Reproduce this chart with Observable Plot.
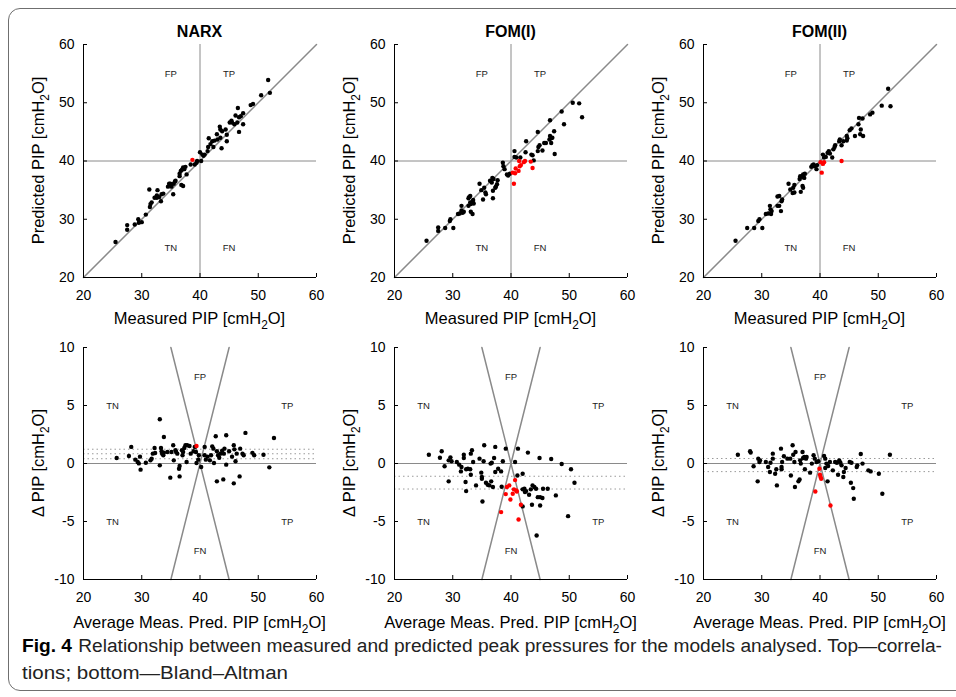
<!DOCTYPE html>
<html>
<head>
<meta charset="utf-8">
<script src="https://cdn.jsdelivr.net/npm/d3@7"></script>
<script src="https://cdn.jsdelivr.net/npm/@observablehq/plot@0.6"></script>
<style>
  html, body { margin: 0; padding: 0; background: #fff; }
  body { width: 956px; height: 697px; overflow: hidden; position: relative; font-family: "Liberation Sans", Arial, sans-serif; }
  #frame { position: absolute; left: 8px; top: 8px; width: 980px; height: 683px; border: 1px solid #6f6f6f; border-radius: 12px; box-sizing: border-box; }
</style>
</head>
<body>
<div id="frame"></div>
<script>
// ---------- data ----------
const models = ["NARX", "FOM(I)", "FOM(II)"];
const xTicks = [20, 30, 40, 50, 60];
const corrYTicks = [20, 30, 40, 50, 60];
const baYTicks = [-10, -5, 0, 5, 10];
const threshold = 40;

// correlation panels: [measured, predicted]
const narxCorr = [[25.5,26.1],[27.5,29.0],[27.5,28.2],[28.8,29.1],[29.4,30.0],[29.5,29.4],[30.0,29.5],[30.7,30.8],[31.3,35.1],[31.4,32.1],[31.5,32.6],[31.7,32.9],[32.2,33.7],[32.7,35.0],[32.6,34.1],[32.6,33.7],[33.0,33.8],[33.3,33.1],[33.4,34.3],[33.7,34.4],[34.5,35.6],[34.7,36.1],[34.9,36.1],[35.1,35.6],[35.5,36.1],[35.4,34.3],[35.7,36.5],[35.8,36.6],[36.5,37.4],[36.5,37.8],[36.7,38.3],[36.9,38.5],[37.1,38.9],[37.3,38.6],[37.5,39.0],[37.7,37.7],[36.8,35.9],[37.1,35.7],[38.4,39.4],[39.1,39.4],[39.4,39.7],[39.5,40.0],[40.2,40.0],[40.0,41.5],[40.4,41.1],[40.6,40.9],[40.8,41.1],[41.3,41.7],[41.4,42.4],[41.5,43.9],[41.8,42.9],[42.1,43.4],[42.3,42.4],[42.5,43.5],[42.9,44.6],[43.0,43.7],[43.5,44.0],[43.7,42.2],[43.4,45.9],[43.5,45.4],[43.8,45.1],[44.4,45.4],[44.6,43.4],[44.6,44.5],[45.1,46.6],[45.4,46.9],[45.5,46.6],[45.9,46.3],[46.4,46.6],[46.1,47.8],[46.5,49.1],[46.7,47.5],[46.7,45.0],[47.0,47.7],[47.4,48.2],[47.4,46.3],[48.7,49.6],[49.1,49.8],[50.5,51.3],[51.7,53.9],[52.0,51.7]];
const narxCorrRed = [[38.7,40.2]];

const fom1Corr = [[25.5,26.3],[27.5,28.6],[27.5,28.0],[28.7,28.5],[29.5,29.7],[29.6,30.0],[30.1,28.5],[30.9,30.9],[31.2,31.0],[31.5,32.3],[31.5,31.5],[31.7,31.1],[31.9,31.3],[32.7,32.3],[32.8,33.8],[33.0,34.0],[32.7,33.6],[33.0,32.9],[33.1,32.6],[33.4,33.0],[33.5,33.3],[33.6,32.7],[33.1,31.3],[33.4,30.9],[34.6,36.1],[34.9,35.0],[35.2,33.4],[35.4,35.4],[35.6,34.6],[35.7,34.3],[36.4,36.6],[36.7,36.3],[36.8,37.1],[37.0,36.9],[36.9,34.9],[36.9,33.6],[37.3,35.4],[37.4,35.6],[37.6,36.0],[37.7,36.7],[38.6,39.7],[38.7,39.1],[38.9,38.6],[39.3,37.7],[39.5,37.5],[39.8,37.8],[40.6,41.7],[40.6,40.7],[40.9,40.6],[41.6,40.6],[42.5,41.5],[42.6,43.4],[43.5,41.1],[43.7,41.0],[43.9,40.1],[44.6,45.0],[44.6,41.7],[44.7,42.4],[44.9,42.7],[45.4,41.8],[45.7,43.1],[46.0,43.1],[46.6,43.7],[46.7,47.0],[46.7,44.3],[46.9,43.9],[47.1,44.0],[46.9,43.1],[47.4,45.1],[47.5,41.2],[48.7,48.5],[49.1,46.3],[50.6,50.0],[51.7,49.9],[52.2,47.5]];
const fom1CorrRed = [[40.3,38.0],[40.7,37.9],[40.5,36.1],[40.8,38.7],[41.4,40.0],[41.5,39.1],[41.3,38.3],[41.7,39.3],[42.2,39.8],[42.4,40.0],[43.4,39.9],[43.7,38.8]];

const fom2Corr = [[25.5,26.3],[27.5,28.5],[28.7,28.5],[30.1,28.5],[29.4,29.7],[29.6,30.0],[30.7,30.9],[31.1,31.0],[31.4,32.3],[31.5,31.7],[31.7,31.4],[31.6,30.9],[32.7,33.9],[33.0,34.0],[33.4,33.1],[33.5,33.4],[32.7,32.3],[33.0,32.3],[33.3,31.4],[34.6,36.1],[34.9,35.1],[35.4,35.4],[35.6,35.9],[35.3,34.5],[35.6,34.6],[36.7,34.7],[36.5,36.9],[36.6,37.4],[36.9,37.3],[37.1,37.7],[37.3,37.1],[37.4,37.8],[37.0,35.7],[37.1,35.4],[38.5,39.0],[38.7,39.3],[38.9,39.4],[39.1,39.1],[39.4,38.6],[39.5,39.3],[40.5,41.1],[40.7,40.6],[41.0,40.7],[41.3,41.4],[41.5,41.7],[41.7,41.3],[42.1,40.6],[42.5,42.4],[42.3,42.0],[42.6,42.7],[43.3,43.4],[43.4,43.7],[43.7,42.7],[44.0,43.4],[44.6,44.3],[44.6,43.5],[44.7,43.9],[45.1,45.3],[45.4,45.6],[46.0,44.3],[46.6,46.3],[46.7,47.4],[46.9,44.6],[47.0,45.4],[47.3,47.3],[47.4,44.3],[48.6,48.0],[49.0,48.3],[50.6,49.5],[51.7,52.4],[52.1,49.4]];
const fom2CorrRed = [[40.1,39.8],[40.5,39.5],[40.7,39.8],[40.3,38.0],[43.7,40.0]];

// Bland-Altman panels: [average, difference]
const narxBA = [[25.7,0.48],[27.8,0.65],[28.2,1.43],[28.9,0.33],[29.3,0.13],[29.5,0.01],[29.7,0.59],[29.8,-0.53],[30.7,0.07],[31.5,0.27],[31.7,0.42],[31.9,0.85],[32.2,1.34],[32.3,0.91],[33.1,3.82],[33.1,-0.16],[33.3,1.34],[33.4,1.05],[33.5,0.85],[33.7,0.71],[33.8,2.29],[33.8,0.94],[34.4,0.99],[34.9,-1.22],[35.1,0.99],[35.4,1.57],[35.5,0.27],[35.8,1.14],[35.9,0.99],[36.1,0.85],[36.4,-0.45],[36.5,-1.11],[36.5,-0.22],[36.9,1.14],[37.0,0.71],[37.1,0.99],[37.3,1.34],[37.5,1.57],[37.7,0.13],[37.8,1.57],[38.2,1.51],[38.4,0.85],[38.9,1.05],[39.1,1.43],[39.3,0.99],[39.4,0.04],[39.7,0.33],[39.8,0.71],[40.2,-0.30],[40.8,1.43],[40.8,0.71],[41.0,0.33],[41.3,0.59],[41.7,0.27],[41.9,0.71],[42.1,1.48],[42.3,1.28],[42.4,0.04],[42.7,2.35],[42.9,1.05],[42.9,-1.54],[43.1,0.71],[43.3,0.50],[43.5,0.85],[43.8,1.11],[44.0,-1.37],[44.1,0.85],[44.2,1.28],[44.5,2.44],[44.5,-0.10],[45.0,1.05],[45.5,0.59],[45.8,1.57],[45.9,1.22],[46.1,0.19],[46.3,0.85],[46.8,-1.11],[46.9,1.28],[47.3,0.85],[47.5,0.71],[47.8,2.64],[49.0,0.92],[49.3,0.71],[50.9,0.76],[51.9,-0.33],[52.7,2.20],[45.8,-1.71]];
const narxBARed = [[39.4,1.51]];
const narxLimits = [0.41, 0.84, 1.23];

const fom1BA = [[25.9,0.76],[27.8,0.50],[28.1,1.05],[28.6,-0.24],[29.3,0.27],[29.6,0.53],[29.8,0.19],[29.3,-1.54],[30.7,0.13],[31.1,-0.10],[31.4,-0.68],[31.5,-0.30],[31.9,0.48],[31.9,0.76],[32.2,-1.60],[32.3,-2.38],[32.3,-0.50],[32.6,-0.45],[33.0,-0.50],[33.1,0.85],[33.1,-0.97],[33.3,1.14],[33.5,0.13],[34.0,-1.89],[34.6,0.42],[34.9,-0.79],[35.0,-1.17],[35.0,-1.31],[35.1,-3.27],[35.3,0.19],[35.4,1.57],[35.7,-1.66],[36.0,-1.83],[36.3,-1.89],[36.5,-0.01],[36.6,-1.54],[36.7,0.07],[36.9,-2.03],[37.1,0.48],[37.3,1.43],[37.3,-0.73],[37.8,-0.45],[38.3,-0.68],[38.4,-2.00],[38.6,0.19],[39.1,1.28],[40.7,0.13],[41.2,1.28],[41.1,-1.03],[42.0,-0.88],[42.9,0.94],[44.9,0.48],[46.9,0.39],[48.7,-0.04],[50.3,-0.50],[50.9,-1.66],[49.8,-4.54],[44.4,-6.21],[42.0,-2.23],[42.3,-2.18],[42.4,-2.46],[42.6,-2.38],[43.1,-2.69],[43.4,-2.23],[43.7,-1.89],[44.0,-2.03],[44.3,-2.18],[44.6,-2.90],[45.0,-2.90],[45.4,-2.98],[45.5,-2.18],[46.3,-2.18],[43.6,-3.56],[45.0,-3.62],[42.0,-3.70],[47.7,-2.75]];
const fom1BARed = [[39.1,-2.64],[39.3,-2.03],[39.7,-1.89],[39.9,-3.10],[40.3,-2.61],[40.5,-2.23],[40.7,-1.43],[40.9,-2.32],[41.0,-2.41],[41.7,-3.56],[38.3,-4.19],[41.3,-4.83]];
const fom1Limits = [-1.1, -2.2];

const fom2BA = [[25.9,0.76],[28.0,1.05],[28.1,0.94],[28.6,-0.24],[29.4,0.42],[29.6,0.13],[29.7,0.27],[29.3,-1.54],[30.7,0.13],[31.1,-0.30],[31.4,-0.73],[31.5,0.07],[31.9,0.85],[31.9,0.42],[32.3,-0.88],[32.5,-0.50],[32.6,-1.89],[33.3,1.28],[33.4,-0.30],[33.4,-0.50],[33.5,0.13],[33.8,0.62],[34.4,0.42],[34.9,0.42],[35.0,-1.03],[35.3,1.57],[35.4,0.76],[35.6,0.13],[35.7,-2.03],[35.8,0.99],[36.3,-1.54],[36.5,-1.37],[36.6,0.27],[36.7,-0.01],[37.0,0.99],[37.1,0.48],[37.3,0.56],[37.4,-0.50],[37.6,0.42],[37.7,0.56],[38.3,-0.79],[38.6,-0.01],[38.9,0.71],[39.1,0.42],[39.4,0.13],[39.7,0.19],[40.7,0.65],[40.9,0.42],[40.9,-0.39],[41.1,-0.01],[41.3,-1.54],[41.4,-0.22],[41.7,0.13],[42.2,-0.59],[42.6,0.13],[42.9,0.07],[43.1,-0.97],[43.3,0.27],[43.5,0.07],[43.7,-0.16],[44.0,-1.17],[44.1,-0.73],[44.4,-0.39],[45.1,0.13],[45.3,-1.66],[45.4,0.07],[45.7,-2.12],[45.8,-3.04],[46.3,-0.30],[46.4,-0.16],[47.0,0.82],[47.3,-0.01],[48.3,-0.59],[48.7,-0.68],[50.1,-0.88],[50.7,-2.61],[52.0,0.76]];
const fom2BARed = [[39.9,-0.45],[40.0,-0.97],[40.1,-1.17],[40.2,-1.31],[39.2,-2.41],[41.8,-3.62]];
const fom2Limits = [0.43, -0.7];

// quadrant annotations
const corrNotes = [["FP",35,55],["TP",45,55],["TN",35,25],["FN",45,25]];
const baNotes = [["TN",25,5],["TP",55,5],["TN",25,-5],["TP",55,-5],["FP",40,7.5],["FN",40,-7.5]];

// ---------- layout ----------
const colLeft = [83, 394, 703];
const plotW = 233;
const rowTop = [44, 347];
const plotH = [233, 232];
const FONT = '"Liberation Sans", Arial, Helvetica, sans-serif';
const GRAY = "#8a8a8a";

function panel(col, row, black, red, yDomain, yTicks, extra, notes) {
  const mL = 50, mR = 22, mT = 10, mB = 30;
  const chart = Plot.plot({
    width: plotW + mL + mR,
    height: plotH[row] + mT + mB,
    marginLeft: mL, marginRight: mR, marginTop: mT, marginBottom: mB,
    x: {domain: [xTicks[0], xTicks[xTicks.length - 1]]},
    y: {domain: yDomain},
    style: {fontFamily: FONT, fontSize: "14px", color: "#000", background: "transparent", overflow: "visible"},
    marks: [
      ...extra,
      Plot.text(notes, {x: d => d[1], y: d => d[2], text: d => d[0], fontSize: 9.5, fill: "#222"}),
      Plot.dot(black, {x: d => d[0], y: d => d[1], r: 2.2, fill: "#000", stroke: null}),
      Plot.dot(red, {x: d => d[0], y: d => d[1], r: 2.2, fill: "#ff0000", stroke: null}),
      Plot.ruleX([xTicks[0]], {stroke: "#000"}),
      Plot.ruleY([yDomain[0]], {stroke: "#000"}),
      Plot.axisX({ticks: xTicks, tickSize: -4, tickPadding: 17, tickFormat: d => String(d), label: null, fontSize: 14}),
      Plot.axisY({ticks: yTicks, tickSize: -4, tickPadding: 13, tickFormat: d => String(d), label: null, fontSize: 14})
    ]
  });
  chart.style.position = "absolute";
  chart.style.left = (colLeft[col] - mL) + "px";
  chart.style.top = (rowTop[row] - mT) + "px";
  document.body.appendChild(chart);
}

function corrExtra() {
  const lo = corrYTicks[0], hi = corrYTicks[corrYTicks.length - 1];
  return [
    Plot.ruleX([threshold], {stroke: GRAY}),
    Plot.ruleY([threshold], {stroke: GRAY}),
    Plot.line([[lo, lo], [hi, hi]], {stroke: GRAY})
  ];
}
function baExtra(limits) {
  const top = baYTicks[baYTicks.length - 1], bot = baYTicks[0];
  return [
    Plot.ruleY(limits, {stroke: "#9a9a9a", strokeDasharray: "1.5,3"}),
    Plot.ruleY([0], {stroke: GRAY}),
    Plot.line([[threshold - top / 2, top], [threshold + top / 2, bot]], {stroke: GRAY}),
    Plot.line([[threshold + top / 2, top], [threshold - top / 2, bot]], {stroke: GRAY})
  ];
}

const corrSets = [[narxCorr, narxCorrRed], [fom1Corr, fom1CorrRed], [fom2Corr, fom2CorrRed]];
const baSets = [[narxBA, narxBARed, narxLimits], [fom1BA, fom1BARed, fom1Limits], [fom2BA, fom2BARed, fom2Limits]];

corrSets.forEach(([b, r], i) => panel(i, 0, b, r, [corrYTicks[0], corrYTicks[corrYTicks.length - 1]], corrYTicks, corrExtra(), corrNotes));
baSets.forEach(([b, r, lim], i) => panel(i, 1, b, r, [baYTicks[0], baYTicks[baYTicks.length - 1]], baYTicks, baExtra(lim), baNotes));

// ---------- text overlay ----------
const ov = d3.select("body").append("svg")
  .attr("width", 956).attr("height", 697)
  .style("position", "absolute").style("left", "0px").style("top", "0px")
  .attr("font-family", FONT);

function subLabel(g, before, after, size) {
  const t = g.append("text").attr("font-size", size).attr("text-anchor", "middle").attr("fill", "#000");
  t.append("tspan").text(before);
  t.append("tspan").attr("font-size", size * 0.72).attr("dy", size * 0.3).text("2");
  t.append("tspan").attr("dy", -size * 0.3).text(after);
  return t;
}

models.forEach((m, i) => {
  const cx = colLeft[i] + plotW / 2;
  const off = colLeft[i] - colLeft[0];
  ov.append("text").attr("x", cx).attr("y", 37).attr("text-anchor", "middle")
    .attr("font-size", 16).attr("font-weight", "bold").text(m);
  subLabel(ov.append("g").attr("transform", `translate(${cx},324)`), "Measured PIP [cmH", "O]", 16.5);
  subLabel(ov.append("g").attr("transform", `translate(${44 + off},${rowTop[0] + plotH[0] / 2}) rotate(-90)`), "Predicted PIP [cmH", "O]", 16.5);
  subLabel(ov.append("g").attr("transform", `translate(${cx},628)`), "Average Meas. Pred. PIP [cmH", "O]", 16.5);
  subLabel(ov.append("g").attr("transform", `translate(${44 + off},${rowTop[1] + plotH[1] / 2}) rotate(-90)`), "\u0394 PIP [cmH", "O]", 16.5);
});

const cap1 = ov.append("text").attr("x", 22).attr("y", 652).attr("font-size", 18).attr("fill", "#222")
  .attr("textLength", 920).attr("lengthAdjust", "spacingAndGlyphs");
cap1.append("tspan").attr("font-weight", "bold").attr("fill", "#000").text("Fig. 4");
cap1.append("tspan").attr("dx", 6).text("Relationship between measured and predicted peak pressures for the models analysed. Top\u2014correla-");
ov.append("text").attr("x", 22).attr("y", 679).attr("font-size", 18).attr("fill", "#222")
  .attr("textLength", 266).attr("lengthAdjust", "spacingAndGlyphs")
  .text("tions; bottom\u2014Bland\u2013Altman");
</script>
</body>
</html>
